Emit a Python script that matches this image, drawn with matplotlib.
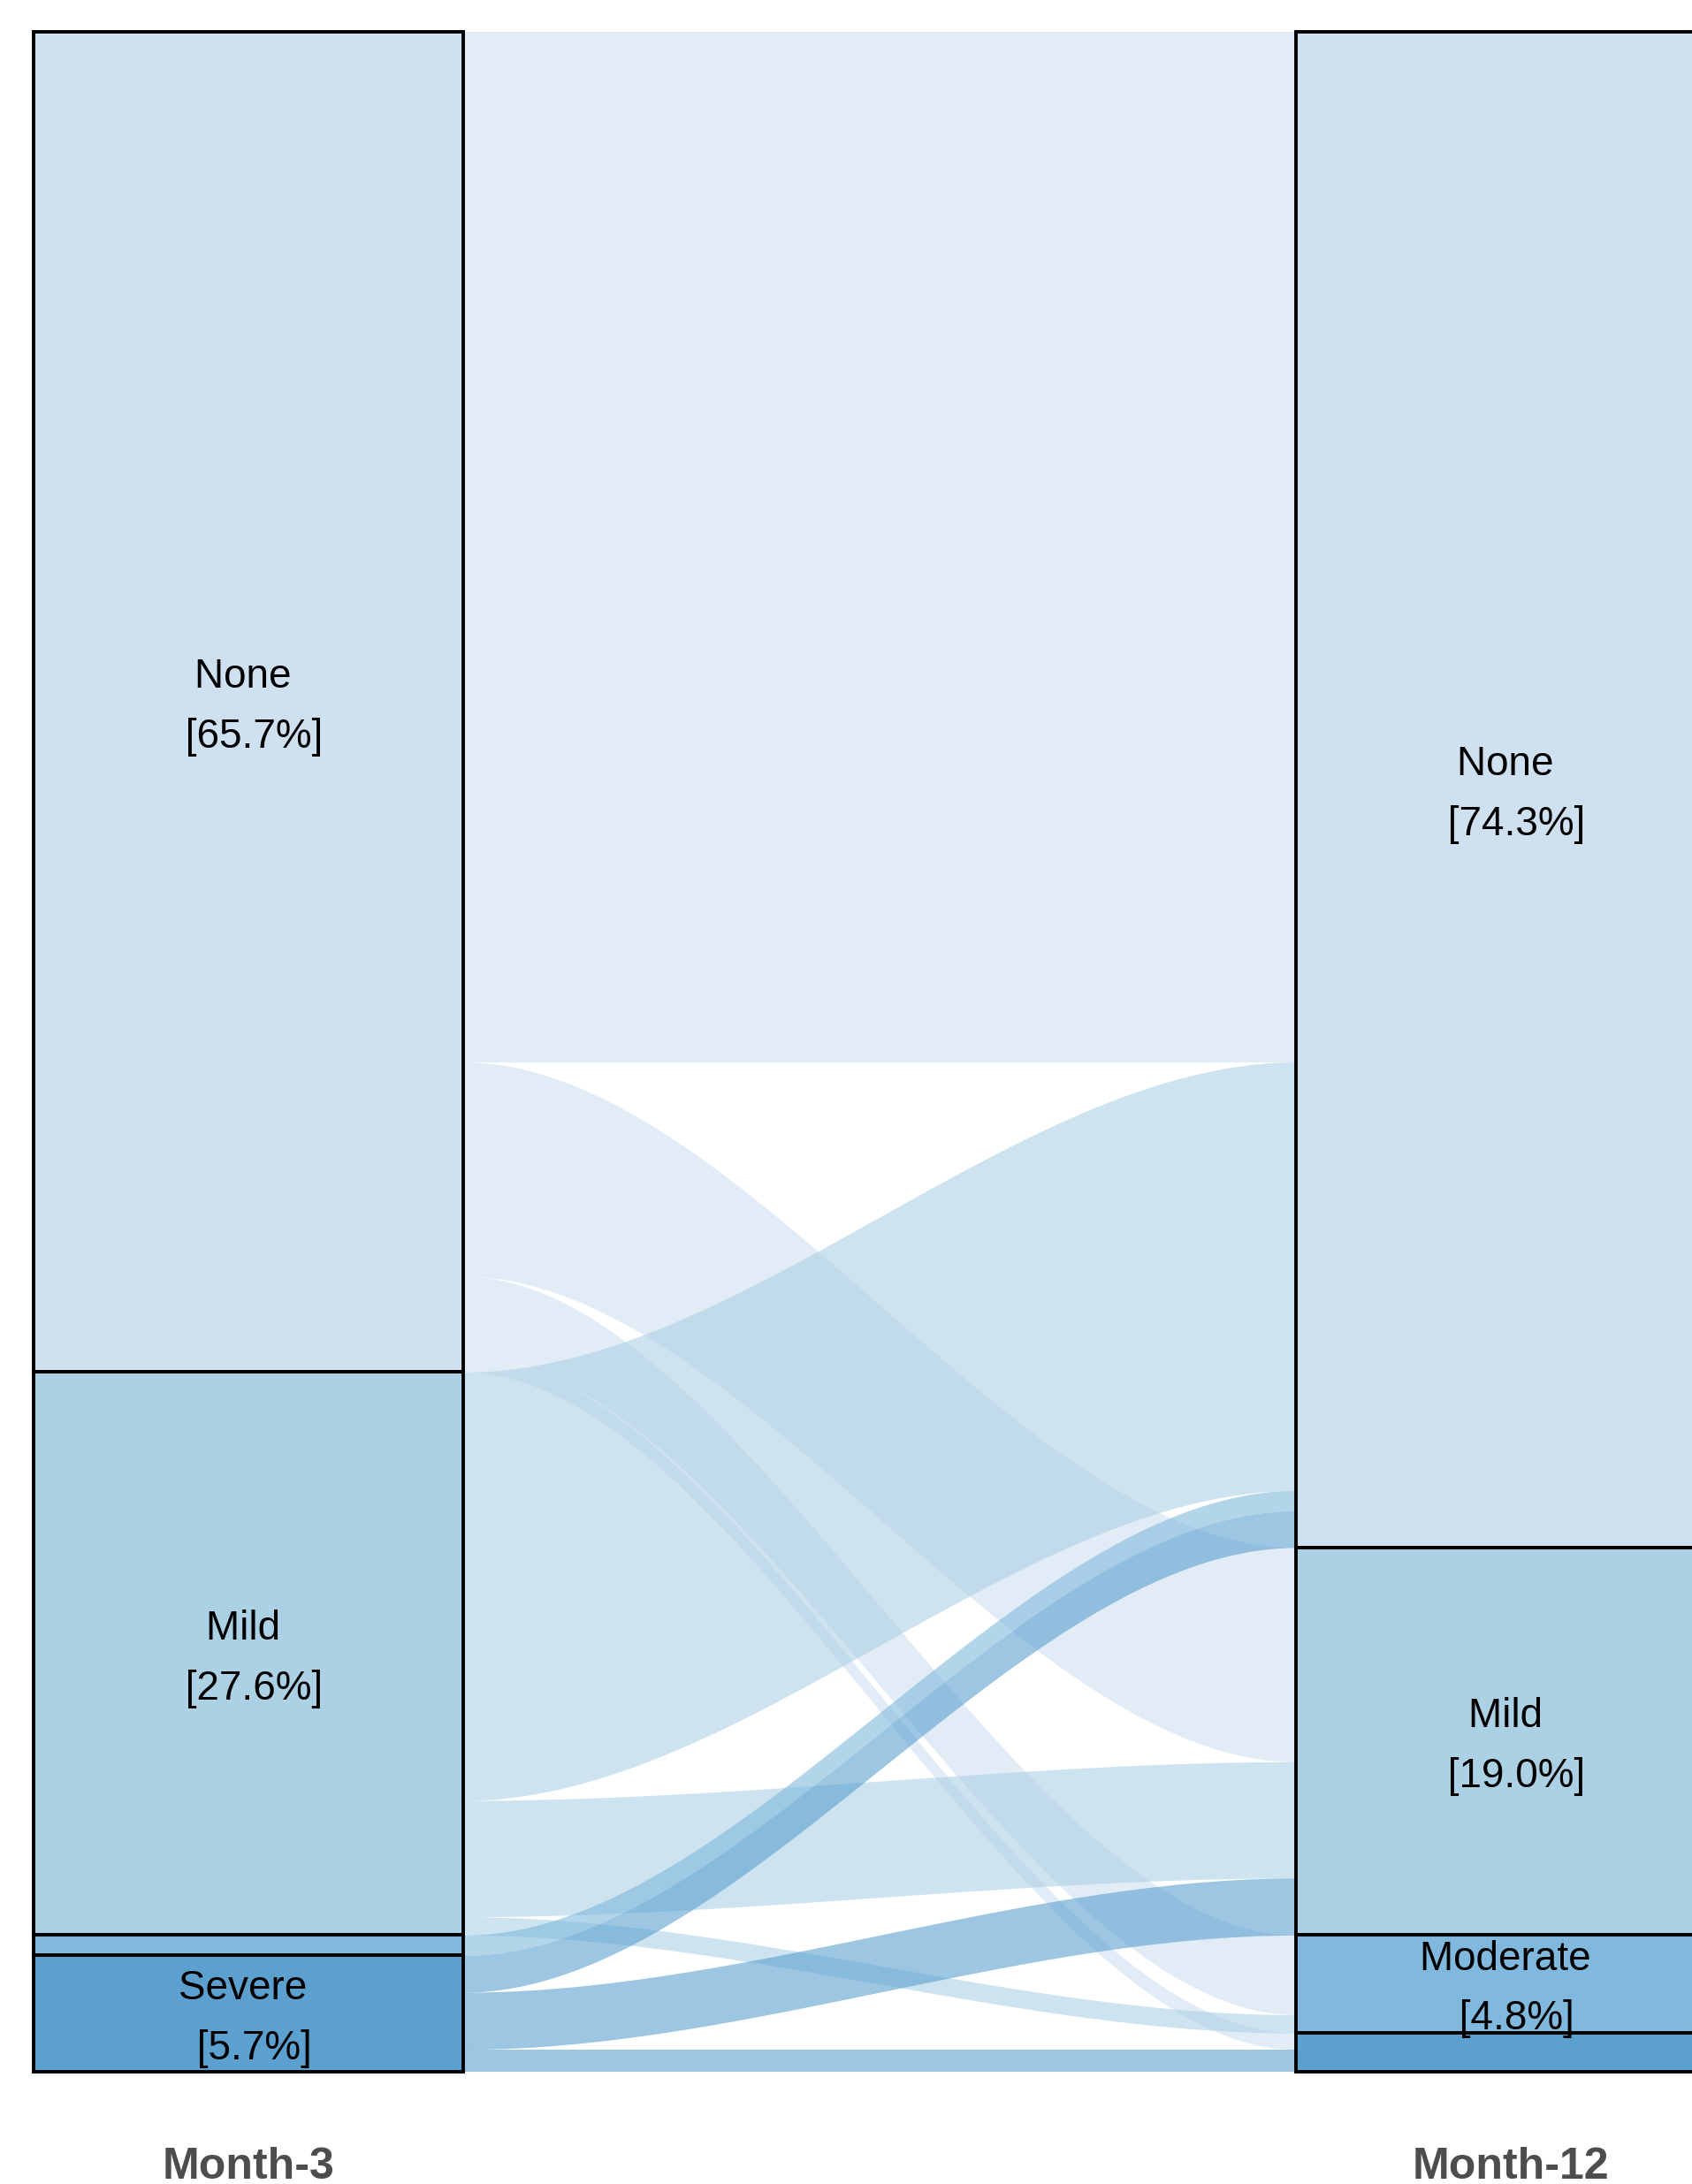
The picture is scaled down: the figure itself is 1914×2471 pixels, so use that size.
import matplotlib.pyplot as plt
from matplotlib.patches import Rectangle
import numpy as np

plt.rcParams['font.family'] = ['Liberation Sans', 'DejaVu Sans']

# severity at each time point (top to bottom)
stages = ["None", "Mild", "Moderate", "Severe"]
months = ["Month-3", "Month-12"]
month3_pct = [65.7, 27.6, 1.0, 5.7]
month12_pct = [74.3, 19.0, 4.8, 1.9]

# transitions month-3 -> month-12, percent of all patients
flow_from = ["None", "None", "None", "None", "Mild", "Mild", "Mild",
             "Moderate", "Severe", "Severe", "Severe"]
flow_to = ["None", "Mild", "Moderate", "Severe", "None", "Mild", "Moderate",
           "None", "None", "Mild", "Severe"]
flow_pct = [50.5, 10.5, 3.9, 0.8, 21.0, 5.7, 0.9, 1.0, 1.8, 2.8, 1.1]

colors = ["#cfe0f1", "#acd1e5", "#80b9dd", "#5ba0cf"]

xpos = [1, 2]
width = 0.34

fig = plt.figure(figsize=(19.14, 24.71), dpi=100)
ax = fig.add_axes([0, 0, 1, 1])
ax.axis('off')


def stratum_tops(pcts):
    return [100 - sum(pcts[:i]) for i in range(len(pcts))]


left_tops = stratum_tops(month3_pct)
right_tops = stratum_tops(month12_pct)

# stack flows inside each stratum
n = len(flow_pct)
fi = [stages.index(s) for s in flow_from]
ti = [stages.index(s) for s in flow_to]
left_y = [0] * n
right_y = [0] * n
cur = list(left_tops)
for k in sorted(range(n), key=lambda k: (fi[k], ti[k])):
    left_y[k] = cur[fi[k]]
    cur[fi[k]] -= flow_pct[k]
cur = list(right_tops)
for k in sorted(range(n), key=lambda k: (ti[k], fi[k])):
    right_y[k] = cur[ti[k]]
    cur[ti[k]] -= flow_pct[k]

x0 = xpos[0] + width / 2
x1 = xpos[1] - width / 2
t = np.linspace(0, 1, 300)
s = 3 * t ** 2 - 2 * t ** 3
xs = x0 + t * (x1 - x0)
for k in range(n):
    top = left_y[k] + s * (right_y[k] - left_y[k])
    bot = top - flow_pct[k]
    ax.fill_between(xs, bot, top, color=colors[fi[k]], alpha=0.6, lw=0, zorder=1)

# strata
for x, pcts, tops in [(xpos[0], month3_pct, left_tops), (xpos[1], month12_pct, right_tops)]:
    for i, p in enumerate(pcts):
        ax.add_patch(Rectangle((x - width / 2, tops[i] - p), width, p,
                               facecolor=colors[i], edgecolor='black', lw=2.8, zorder=3))
        if p >= 2:
            ax.text(x, tops[i] - p / 2 - 0.25, f"{stages[i]} \n [{p:.1f}%]", ha='center',
                    va='center', fontsize=33, linespacing=1.7, zorder=4)

for x, m in zip(xpos, months):
    ax.text(x, -5.24, m, ha='center', va='baseline', fontsize=36,
            fontweight='bold', color='#4d4d4d')

ax.set_xlim(0.8032, 2.1436)
ax.set_ylim(-5.50, 101.56)

fig.savefig("out.png", dpi=100)
